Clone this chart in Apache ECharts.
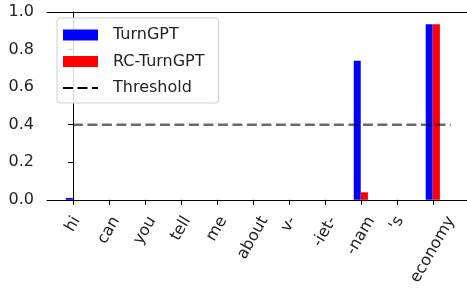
<!DOCTYPE html>
<html>
<head>
<meta charset="utf-8">
<script src="https://cdn.jsdelivr.net/npm/echarts@6/dist/echarts.min.js"></script>
<style>
  html, body { margin: 0; padding: 0; background: #fff; }
  #chart { width: 467px; height: 288px; }
</style>
</head>
<body>
<div id="chart"></div>
<script>
// tokens on the x axis
var tokens = ['hi', 'can', 'you', 'tell', 'me', 'about', 'v-', '-iet-', '-nam', "'s", 'economy'];
var turngpt = [0.01, 0, 0, 0, 0, 0, 0, 0, 0.74, 0, 0.935];
var rc_turngpt = [0, 0, 0, 0, 0, 0, 0, 0, 0.04, 0, 0.935];
var threshold = 0.4;
var threshold_x = [0, 10.5];
var y_ticks = [0, 0.2, 0.4, 0.6, 0.8, 1.0];

var font = 'DejaVu Sans';
var font_size = 16;

// measure label widths so rotated labels can be centred under ticks (matplotlib style)
var ctx = document.createElement('canvas').getContext('2d');
ctx.font = font_size + 'px "' + font + '"';
var rich = {};
tokens.forEach(function(t, i){
  var w = ctx.measureText(t).width;
  rich['l' + i] = {
    fontFamily: font,
    fontSize: font_size,
    color: '#222',
    padding: [0.433 * w, 0.75 * w, 0, 0]
  };
});

var tick_idx = tokens.map(function(t, i){ return i; });

var blue_data = turngpt.map(function(v, i){ return [i - 0.1, v]; });
var red_data = rc_turngpt.map(function(v, i){ return [i + 0.1, v]; });

var chart_div = echarts.init(document.getElementById('chart'));

option = {
  animation: false,
  textStyle: { fontFamily: font },
  grid: { left: 47, right: 0, top: 12, bottom: 87 },
  legend: {
    orient: 'vertical',
    left: 57,
    top: 18,
    padding: [9, 14, 7, 5],
    itemWidth: 35,
    itemHeight: 11,
    itemGap: 10.5,
    backgroundColor: 'rgba(255,255,255,0.85)',
    borderColor: '#d0d0d0',
    borderWidth: 1,
    borderRadius: 3,
    textStyle: { fontFamily: font, fontSize: font_size, color: '#222', padding: [0, 0, 0, 10] },
    data: [
      { name: 'TurnGPT', icon: 'rect' },
      { name: 'RC-TurnGPT', icon: 'rect' },
      { name: 'Threshold', itemStyle: { opacity: 0 }, lineStyle: { color: '#000', width: 2, type: [10, 4.5] } }
    ]
  },
  xAxis: [
    {
      type: 'value',
      min: -0.72,
      max: 10.95,
      axisLine: { show: true, lineStyle: { color: '#000', width: 1 } },
      axisTick: { show: true, length: 5, customValues: tick_idx, lineStyle: { color: '#000' } },
      axisLabel: {
        customValues: tick_idx,
        rotate: 60,
        align: 'center',
        verticalAlign: 'middle',
        margin: 18,
        formatter: function(v){
          var i = Math.round(v);
          return '{l' + i + '|' + tokens[i] + '}';
        },
        rich: rich
      },
      splitLine: { show: false }
    },
    {
      type: 'value',
      position: 'top',
      min: -0.72,
      max: 10.95,
      axisLine: { show: true, lineStyle: { color: '#000', width: 1 } },
      axisTick: { show: false },
      axisLabel: { show: false },
      splitLine: { show: false }
    }
  ],
  yAxis: {
    type: 'value',
    min: 0,
    max: 1,
    interval: 0.2,
    axisLine: { show: true, lineStyle: { color: '#000', width: 1 } },
    axisTick: { show: true, length: 5, lineStyle: { color: '#000' } },
    axisLabel: {
      margin: 13,
      fontFamily: font,
      fontSize: font_size,
      color: '#222',
      formatter: function(v){ return v.toFixed(1); }
    },
    splitLine: { show: false }
  },
  series: [
    {
      name: 'TurnGPT',
      type: 'bar',
      barWidth: 7,
      barGap: '-100%',
      itemStyle: { color: '#0000ff' },
      data: blue_data
    },
    {
      name: 'RC-TurnGPT',
      type: 'bar',
      barWidth: 7,
      barGap: '-100%',
      itemStyle: { color: '#ff0000' },
      data: red_data
    },
    {
      name: 'Threshold',
      type: 'line',
      symbol: 'none',
      color: '#000',
      lineStyle: { color: 'rgba(0,0,0,0.58)', width: 2.5, type: [10, 4.5] },
      data: threshold_x.map(function(x){ return [x, threshold]; }),
      z: 5
    }
  ]
};

chart_div.setOption(option, true);
</script>
</body>
</html>
